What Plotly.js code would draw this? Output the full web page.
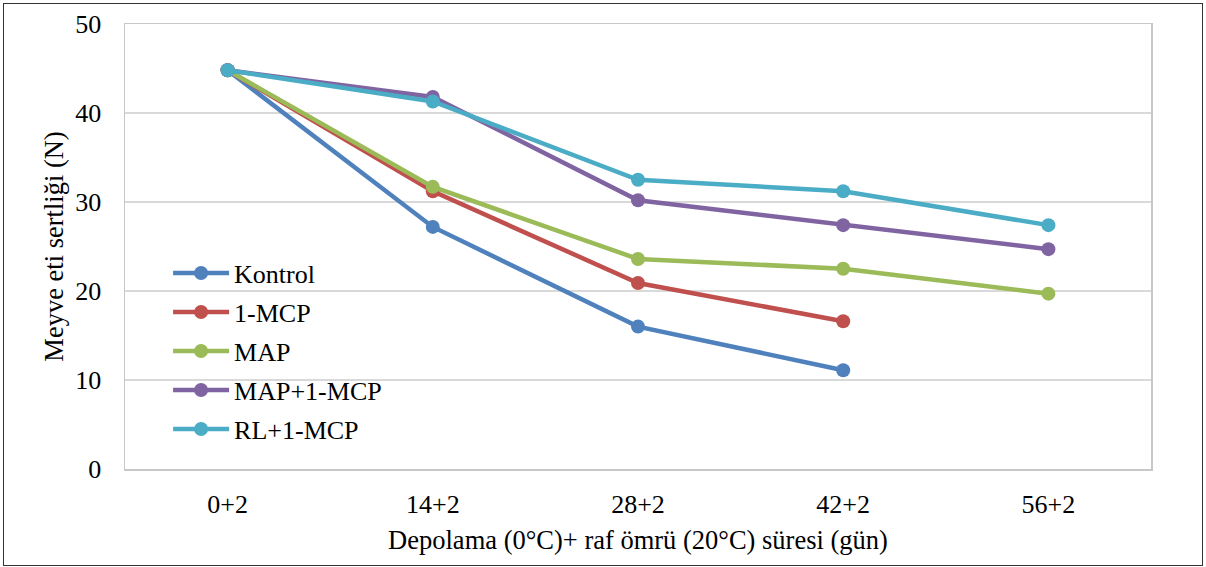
<!DOCTYPE html>
<html>
<head>
<meta charset="utf-8">
<script src="https://cdn.plot.ly/plotly-3.0.1.min.js"></script>
<style>
html,body{margin:0;padding:0;background:#fff;}
#wrap{position:relative;width:1206px;height:567px;}
#chart{position:absolute;left:0;top:0;width:1206px;height:567px;}
#frame{position:absolute;left:3px;top:3px;width:1198px;height:561px;border:1.5px solid #333;pointer-events:none;}
</style>
</head>
<body>
<div id="wrap"><div id="chart"></div><div id="frame"></div></div>
<script>
const categories = ['0+2', '14+2', '28+2', '42+2', '56+2'];
const seriesNames = ['Kontrol', '1-MCP', 'MAP', 'MAP+1-MCP', 'RL+1-MCP'];
const kontrol = [44.8, 27.2, 16.0, 11.1, null];
const mcp1 = [44.8, 31.2, 20.9, 16.6, null];
const map = [44.8, 31.7, 23.6, 22.5, 19.7];
const mapMcp = [44.8, 41.8, 30.2, 27.4, 24.7];
const rlMcp = [44.8, 41.3, 32.5, 31.2, 27.4];
const yTicks = [0, 10, 20, 30, 40, 50];

const colors = ['#4F81BD', '#C0504D', '#9BBB59', '#8064A2', '#4BACC6'];
const values = [kontrol, mcp1, map, mapMcp, rlMcp];

const traces = values.map((v, i) => ({
  x: categories,
  y: v,
  name: seriesNames[i],
  legendgroup: 'g' + i,
  type: 'scatter',
  mode: 'lines+markers',
  line: {color: colors[i], width: 4.5},
  marker: {color: colors[i], size: 14},
  connectgaps: false
}));

const font = 'Liberation Serif, Times New Roman, serif';
const layout = {
  width: 1206, height: 567,
  margin: {l: 125, r: 55, t: 24, b: 98},
  paper_bgcolor: 'rgba(0,0,0,0)',
  plot_bgcolor: '#fff',
  font: {family: font, color: '#000', size: 26},
  showlegend: true,
  legend: {
    x: 0.042, y: 0.493, xanchor: 'left', yanchor: 'top',
    font: {family: font, size: 26, color: '#000'},
    bgcolor: 'rgba(0,0,0,0)',
    tracegroupgap: 2.2,
    itemwidth: 56
  },
  xaxis: {
    type: 'category',
    tickvals: categories,
    ticktext: categories,
    range: [-0.5, 4.5],
    showgrid: false,
    showline: true, mirror: true, linecolor: '#c8c8c8', linewidth: 1.5,
    ticks: '', ticklabelstandoff: 11,
    tickfont: {family: font, size: 26, color: '#000'},
    title: {text: 'Depolama (0°C)+ raf ömrü (20°C) süresi (gün)', font: {family: font, size: 26.5, color: '#000'}, standoff: 12},
    zeroline: false, fixedrange: true
  },
  yaxis: {
    range: [0, 50],
    tickvals: yTicks,
    ticktext: yTicks.map(String),
    showgrid: true, gridcolor: '#d9d9d9', gridwidth: 1.5,
    showline: true, mirror: true, linecolor: '#c8c8c8', linewidth: 1.5,
    ticks: '', ticklabelstandoff: 17,
    tickfont: {family: font, size: 26, color: '#000'},
    title: {text: 'Meyve eti sertliği (N)', font: {family: font, size: 26.5, color: '#000'}, standoff: 4},
    zeroline: false, fixedrange: true
  }
};

Plotly.newPlot('chart', traces, layout, {displayModeBar: false, staticPlot: true});
</script>
</body>
</html>
